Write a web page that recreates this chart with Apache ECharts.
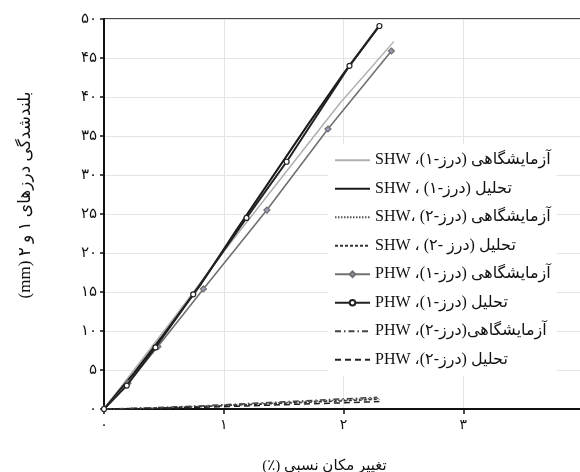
<!DOCTYPE html>
<html>
<head>
<meta charset="utf-8">
<script src="https://cdn.jsdelivr.net/npm/echarts@6/dist/echarts.min.js"></script>
<style>
  html, body { margin: 0; padding: 0; background: #fff; }
  #chart { width: 580px; height: 472px; }
</style>
</head>
<body>
<div id="chart" dir="rtl"></div>
<script>
// Relative displacement (%) and joint uplift (mm) for the SHW and PHW walls
const shwExpJ1X  = [0, 0.3, 0.6, 1.0, 1.5, 1.97, 2.42];
const shwExpJ1Y  = [0, 6.0, 12.0, 20.2, 30.0, 39.2, 47.1];
const shwAnaJ1X  = [0, 0.25, 0.5, 0.8, 1.1, 1.4, 1.7, 2.0, 2.3];
const shwAnaJ1Y  = [0, 4.6, 9.6, 15.8, 22.8, 29.6, 36.4, 43.0, 49.2];
const shwExpJ2X  = [0, 0.4, 0.8, 1.2, 1.6, 2.0, 2.3];
const shwExpJ2Y  = [0, 0.1, 0.35, 0.6, 0.9, 1.15, 1.4];
const shwAnaJ2X  = [0, 0.4, 0.8, 1.2, 1.6, 2.0, 2.3];
const shwAnaJ2Y  = [0, 0.1, 0.3, 0.55, 0.8, 1.05, 1.25];
const phwExpJ1X  = [0, 0.2, 0.45, 0.83, 1.36, 1.87, 2.40];
const phwExpJ1Y  = [0, 3.3, 8.0, 15.4, 25.5, 35.9, 45.9];
const phwAnaJ1X  = [0, 0.19, 0.43, 0.745, 1.19, 1.525, 2.05, 2.30];
const phwAnaJ1Y  = [0, 3.0, 7.9, 14.7, 24.5, 31.7, 44.0, 49.1];
const phwExpJ2X  = [0, 0.4, 0.8, 1.2, 1.6, 2.0, 2.28];
const phwExpJ2Y  = [0, 0.15, 0.4, 0.7, 1.0, 1.3, 1.5];
const phwAnaJ2X  = [0, 0.4, 0.8, 1.2, 1.6, 2.0, 2.3];
const phwAnaJ2Y  = [0, 0.05, 0.2, 0.4, 0.6, 0.8, 0.95];

const seriesNames = [
  'آزمایشگاهی (درز-۱)، SHW',
  'تحلیل (درز-۱) ، SHW',
  'آزمایشگاهی (درز-۲) ،SHW',
  'تحلیل (درز -۲) ، SHW',
  'آزمایشگاهی (درز-۱)، PHW',
  'تحلیل (درز-۱)، PHW',
  'آزمایشگاهی(درز-۲)، PHW',
  'تحلیل (درز-۲)، PHW'
];
// which series carry point markers
const hasMarker = [false, false, false, false, true, true, false, false];

const xTickLabels = ['۰', '۱', '۲', '۳', '۴'];
const yTickLabels = ['۰', '۵', '۱۰', '۱۵', '۲۰', '۲۵', '۳۰', '۳۵', '۴۰', '۴۵', '۵۰'];

const xAxisTitle = 'تغییر مکان نسبی (٪)';
const yAxisTitle = 'بلندشدگی درزهای ۱ و ۲ (mm)';

const FONT = "'Liberation Serif', 'DejaVu Sans', serif";

function pairs(xs, ys) {
  return xs.map((x, i) => [x, ys[i]]);
}

function lineSeries(name, xs, ys, style) {
  return {
    name: name,
    type: 'line',
    data: pairs(xs, ys),
    smooth: false,
    symbol: style.symbol || 'none',
    symbolSize: style.symbolSize || 5,
    showSymbol: !!style.symbol,
    color: style.color,
    itemStyle: { color: style.fill || '#fff', borderColor: style.color, borderWidth: 1.2 },
    lineStyle: { color: style.color, width: style.width, type: style.type || 'solid' },
    emphasis: { disabled: true },
    z: style.z || 2
  };
}

const chart = echarts.init(document.getElementById('chart'), null, { renderer: 'canvas' });

chart.setOption({
  animation: false,
  backgroundColor: '#fff',
  grid: {
    left: 104, top: 19, width: 479, height: 390,
    outerBoundsMode: 'none',
    containLabel: false,
    show: true, borderColor: '#444', borderWidth: 2, backgroundColor: 'transparent'
  },
  xAxis: {
    type: 'value', min: 0, max: 4, interval: 1,
    axisLine: { show: true, lineStyle: { color: '#111', width: 2 } },
    axisTick: { show: true, length: 5, lineStyle: { color: '#111', width: 1.5 } },
    splitLine: { show: true, lineStyle: { color: '#e4e4e4', width: 1 } },
    axisLabel: {
      color: '#111', fontSize: 14, fontFamily: FONT, margin: 9, showMaxLabel: false,
      formatter: v => xTickLabels[Math.round(v)]
    },
    name: xAxisTitle,
    nameLocation: 'middle',
    nameGap: 50,
    nameTextStyle: { color: '#111', fontSize: 15, fontFamily: FONT, padding: [0, 38, 0, 0] }
  },
  yAxis: {
    type: 'value', min: 0, max: 50, interval: 5,
    axisLine: { show: true, lineStyle: { color: '#111', width: 2 } },
    axisTick: { show: true, length: 4, lineStyle: { color: '#111', width: 1.5 } },
    splitLine: { show: true, lineStyle: { color: '#e4e4e4', width: 1 } },
    axisLabel: {
      color: '#111', fontSize: 15, fontFamily: FONT, margin: 7,
      formatter: v => yTickLabels[Math.round(v / 5)]
    },
    name: yAxisTitle,
    nameLocation: 'middle',
    nameRotate: 90,
    nameGap: 70,
    nameTextStyle: { color: '#111', fontSize: 17, fontFamily: FONT, padding: [0, 0, 0, 38] }
  },
  legend: {
    orient: 'vertical',
    left: 328, top: 144,
    padding: [8, 6, 8, 6],
    backgroundColor: '#fff',
    itemWidth: 35, itemHeight: 7, itemGap: 12,
    textStyle: { color: '#111', fontSize: 16, fontFamily: FONT, lineHeight: 16.5 },
    data: seriesNames.map((n, i) => hasMarker[i] ? { name: n } : { name: n, itemStyle: { opacity: 0 } }),
    selectedMode: false
  },
  series: [
    lineSeries(seriesNames[0], shwExpJ1X, shwExpJ1Y, { color: '#b0b0b0', width: 1.5 }),
    lineSeries(seriesNames[1], shwAnaJ1X, shwAnaJ1Y, { color: '#1a1a1a', width: 2 }),
    lineSeries(seriesNames[2], shwExpJ2X, shwExpJ2Y, { color: '#555', width: 1.5, type: [1.5, 1.5] }),
    lineSeries(seriesNames[3], shwAnaJ2X, shwAnaJ2Y, { color: '#333', width: 1.5, type: [3, 2] }),
    lineSeries(seriesNames[4], phwExpJ1X, phwExpJ1Y, { color: '#707070', width: 1.6, symbol: 'diamond', symbolSize: 6, fill: '#9a9ab8' }),
    lineSeries(seriesNames[5], phwAnaJ1X, phwAnaJ1Y, { color: '#222', width: 2, symbol: 'circle', symbolSize: 5, fill: '#fff', z: 3 }),
    lineSeries(seriesNames[6], phwExpJ2X, phwExpJ2Y, { color: '#444', width: 1.5, type: [6, 3, 1.5, 3] }),
    lineSeries(seriesNames[7], phwAnaJ2X, phwAnaJ2Y, { color: '#222', width: 1.5, type: [6, 4] })
  ]
});
</script>
</body>
</html>
